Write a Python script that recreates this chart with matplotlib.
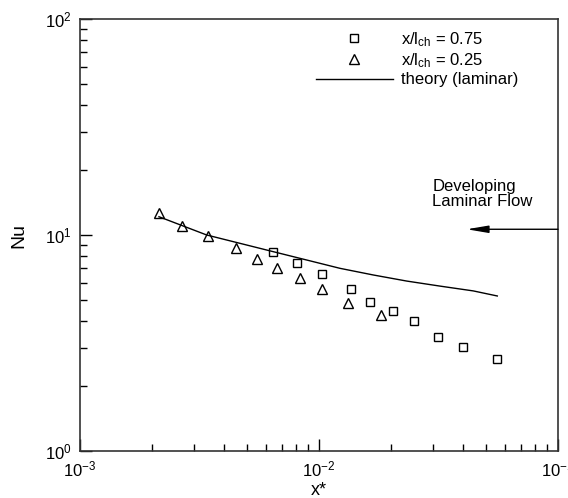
import numpy as np
import matplotlib
matplotlib.use("Agg")
import matplotlib.pyplot as plt

plt.rcParams['font.family'] = ['Liberation Sans', 'DejaVu Sans']
plt.rcParams['mathtext.fontset'] = 'custom'
plt.rcParams['mathtext.rm'] = 'Liberation Sans'
plt.rcParams['mathtext.it'] = 'Liberation Sans'

# data
x_sq = [0.00640, 0.00807, 0.01026, 0.01357, 0.01634, 0.02034, 0.02496, 0.03138, 0.04017, 0.05540]
nu_sq = [8.37, 7.44, 6.62, 5.62, 4.91, 4.44, 4.01, 3.36, 3.02, 2.66]

x_tri = [0.00214, 0.00268, 0.00344, 0.00451, 0.00548, 0.00669, 0.00830, 0.01032, 0.01327, 0.01811]
nu_tri = [12.6, 11.04, 9.93, 8.74, 7.77, 7.01, 6.32, 5.62, 4.83, 4.26]

x_th = [0.00214, 0.00339, 0.00644, 0.00888, 0.01224, 0.01687, 0.02328, 0.03208, 0.04421, 0.05572]
nu_th = [12.15, 10.0, 8.37, 7.66, 7.01, 6.53, 6.12, 5.80, 5.51, 5.22]

arrow_y = 10.63
arrow_tip = 0.0415

fig = plt.figure(figsize=(5.68, 4.98), dpi=100)
ax = fig.add_axes([80/568, 1-451/498, 478/568, 432/498])

ax.plot(x_sq, nu_sq, 's', ms=6, mfc='none', mec='black', mew=1.0,
        label=r'x/l$_\mathregular{ch}$ = 0.75')
ax.plot(x_tri, nu_tri, '^', ms=7, mfc='none', mec='black', mew=1.0,
        label=r'x/l$_\mathregular{ch}$ = 0.25')
ax.plot(x_th, nu_th, '-', color='black', lw=1.0, label='theory (laminar)')

ax.set_xscale('log')
ax.set_yscale('log')
ax.set_xlim(1e-3, 1e-1)
ax.set_ylim(1e0, 1e2)

ax.annotate('', xy=(arrow_tip, arrow_y), xytext=(0.1, arrow_y),
            arrowprops=dict(arrowstyle='-|>,head_length=1.3,head_width=0.22',
                            color='black', lw=1.0, shrinkA=0, shrinkB=0))
ax.text(0.0298, 13.2, 'Developing\nLaminar Flow', fontsize=12, ha='left',
        va='bottom', linespacing=1.0)

ax.tick_params(which='both', direction='in', top=False, right=False,
               labelsize=12, colors='black')
ax.tick_params(which='major', length=8.5, width=1.0, pad=6)
ax.tick_params(which='minor', length=5, width=1.0)
for s in ax.spines.values():
    s.set_linewidth(1.2)
    s.set_color('#333333')

ax.set_xlabel('x*', fontsize=13, labelpad=2)
ax.set_ylabel('Nu', fontsize=14, labelpad=13)

ax.legend(loc='upper left', bbox_to_anchor=(316/568, 1-30/498),
          bbox_transform=fig.transFigure, frameon=False, fontsize=12,
          handlelength=4.6, handletextpad=0.5, borderpad=0, borderaxespad=0,
          labelspacing=0.15)

fig.savefig('out.png', dpi=100)
